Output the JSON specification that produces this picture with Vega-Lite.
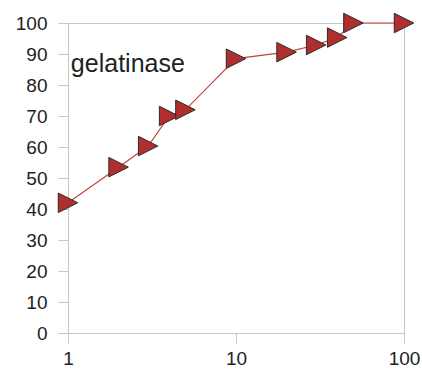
{
  "$schema": "https://vega.github.io/schema/vega-lite/v6.json",
  "width": 336,
  "height": 310,
  "autosize": {"type": "none"},
  "padding": {"left": 68, "top": 23, "right": 18, "bottom": 39},
  "background": "white",
  "config": {
    "view": {"stroke": "#cbc4c4", "strokeWidth": 1},
    "axis": {
      "grid": false,
      "domainColor": "#cbc4c4",
      "tickColor": "#cbc4c4",
      "tickSize": 10,
      "labelFont": "Liberation Sans",
      "labelFontSize": 19,
      "labelColor": "#222222",
      "labelOverlap": false,
      "title": null
    }
  },
  "datasets": {
    "pts": [
      {"x": 1, "y": 42},
      {"x": 2, "y": 53.5},
      {"x": 3, "y": 60.3},
      {"x": 4, "y": 70},
      {"x": 5, "y": 72},
      {"x": 10, "y": 88.5},
      {"x": 20, "y": 90.6},
      {"x": 30, "y": 92.9},
      {"x": 40, "y": 95.3},
      {"x": 50, "y": 100},
      {"x": 100, "y": 100}
    ],
    "lab": [{"x": 1.04, "y": 84.2, "t": "gelatinase"}]
  },
  "encoding": {
    "x": {"field": "x", "type": "quantitative", "scale": {"type": "log", "domain": [1, 100], "nice": false},
          "axis": {"values": [1, 10, 100], "tickSize": 10, "labelPadding": 6, "labelFlush": false, "format": "d", "labelOverlap": false}},
    "y": {"field": "y", "type": "quantitative", "scale": {"domain": [0, 100], "nice": false},
          "axis": {"values": [0, 10, 20, 30, 40, 50, 60, 70, 80, 90, 100], "tickSize": 10, "labelPadding": 11, "labelOverlap": false}}
  },
  "layer": [
    {
      "data": {"name": "pts"},
      "mark": {"type": "line", "color": "#c8403c", "strokeWidth": 1.2}
    },
    {
      "data": {"name": "pts"},
      "mark": {"type": "point", "shape": "M-1,-1L1,0L-1,1Z", "size": 380, "filled": true, "fill": "#b12e2e", "stroke": "#2a2a2a", "strokeWidth": 1, "opacity": 1}
    },
    {
      "data": {"name": "lab"},
      "mark": {"type": "text", "align": "left", "baseline": "alphabetic", "font": "Liberation Sans", "fontSize": 25, "color": "#222222"},
      "encoding": {
        "text": {"field": "t"}
      }
    }
  ]
}
